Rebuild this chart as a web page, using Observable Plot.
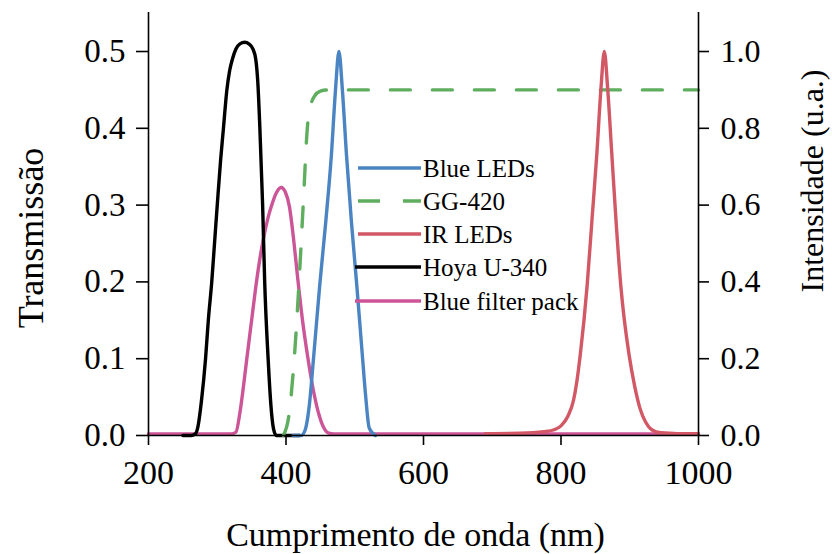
<!DOCTYPE html>
<html><head><meta charset="utf-8">
<script src="https://cdn.jsdelivr.net/npm/d3@7"></script>
<script src="https://cdn.jsdelivr.net/npm/@observablehq/plot@0.6"></script>
<style>body{margin:0;background:#fff} #chart{width:832px;height:554px}</style>
</head><body><div id="chart"></div>
<script>
// ---- data ----
const xTicks = [200, 400, 600, 800, 1000];
const leftTicks = [0, 0.1, 0.2, 0.3, 0.4, 0.5];
const rightTickLabels = ["0.0", "0.2", "0.4", "0.6", "0.8", "1.0"];
const seriesNames = ["Blue LEDs", "GG-420", "IR LEDs", "Hoya U-340", "Blue filter pack"];
const seriesColors = ["#4a84c2", "#5fae5f", "#d25866", "#000000", "#cc5597"];

// Transmissão (left axis)
const hoyaNm = [250, 262, 268, 272, 277, 283, 287, 292, 296, 300, 305, 309, 314, 318, 322, 327, 333, 340, 346, 352, 356, 359, 362, 366, 369, 374, 378, 382, 386, 420];
const hoyaT  = [0, 0, 0.002, 0.012, 0.045, 0.1, 0.15, 0.2, 0.25, 0.3, 0.36, 0.4, 0.45, 0.475, 0.49, 0.503, 0.51, 0.512, 0.51, 0.503, 0.49, 0.46, 0.4, 0.3, 0.2, 0.1, 0.04, 0.008, 0, 0];

const packNm = [200, 320, 327, 333, 338, 343, 350, 356, 362, 368, 374, 380, 386, 393, 399, 405, 411, 417, 424, 432, 440, 448, 455, 462, 470, 1000];
const packT  = [0.002, 0.002, 0.004, 0.03, 0.063, 0.1, 0.15, 0.193, 0.23, 0.26, 0.284, 0.302, 0.316, 0.323, 0.317, 0.298, 0.256, 0.205, 0.15, 0.1, 0.058, 0.027, 0.01, 0.003, 0.002, 0.002];

// Intensidade (right axis)
const blueNm = [410, 422, 428, 434, 440, 449, 458, 466, 472, 477, 482, 488, 495, 503, 511, 516, 521, 530];
const blueI  = [0, 0, 0.015, 0.08, 0.2, 0.39, 0.56, 0.73, 0.9, 1.0, 0.9, 0.73, 0.56, 0.39, 0.21, 0.1, 0.02, 0];

const irNm = [690, 740, 775, 790, 800, 810, 818, 823, 828, 838, 845, 852, 858, 863, 868, 874, 880, 887, 899, 907, 915, 923, 932, 945, 970, 1000];
const irI  = [0.005, 0.006, 0.01, 0.015, 0.025, 0.05, 0.09, 0.14, 0.21, 0.39, 0.56, 0.73, 0.9, 1.0, 0.9, 0.73, 0.56, 0.39, 0.21, 0.13, 0.07, 0.035, 0.015, 0.007, 0.005, 0.005];

const ggNm = [396, 404, 412, 419, 425, 431, 436, 442, 450, 460, 1000];
const ggI  = [0, 0.05, 0.2, 0.4, 0.6, 0.8, 0.86, 0.885, 0.897, 0.9, 0.9];

const xTitle = "Cumprimento de onda (nm)";
const yTitleLeft = "Transmissão";
const yTitleRight = "Intensidade (u.a.)";

// ---- build tables ----
const RIGHT_TO_LEFT = 0.5; // right axis 0–1 shares the left 0–0.5 scale
const toRows = (nm, v, k) => nm.map((x, i) => ({nm: x, v: v[i] * k}));
const hoya = toRows(hoyaNm, hoyaT, 1);
const pack = toRows(packNm, packT, 1);
const blue = toRows(blueNm, blueI, RIGHT_TO_LEFT);
const ir = toRows(irNm, irI, RIGHT_TO_LEFT);
const gg = toRows(ggNm, ggI, RIGHT_TO_LEFT);

const font = "'Liberation Serif', 'Times New Roman', Times, serif";
const lw = 3.4;

const plot = Plot.plot({
  width: 832, height: 554,
  marginLeft: 148, marginRight: 134, marginTop: 12, marginBottom: 119,
  style: {fontFamily: font, background: "white", color: "black"},
  x: {domain: [200, 1000]},
  y: {domain: [0, 0.5508]},
  marks: [
    Plot.line(pack, {x: "nm", y: "v", stroke: seriesColors[4], strokeWidth: lw, curve: "monotone-x"}),
    Plot.line(hoya, {x: "nm", y: "v", stroke: seriesColors[3], strokeWidth: lw, curve: "monotone-x"}),
    Plot.line(blue, {x: "nm", y: "v", stroke: seriesColors[0], strokeWidth: lw, curve: "monotone-x"}),
    Plot.line(gg, {x: "nm", y: "v", stroke: seriesColors[1], strokeWidth: lw, strokeDasharray: "20,22", curve: "monotone-x"}),
    Plot.line(ir, {x: "nm", y: "v", stroke: seriesColors[2], strokeWidth: lw, curve: "monotone-x"}),
    Plot.ruleY([0], {stroke: "black", strokeWidth: 1.6}),
    Plot.ruleX([200, 1000], {stroke: "black", strokeWidth: 1.6}),
    Plot.axisX({ticks: xTicks, tickSize: 10, tickPadding: 14, fontSize: 34, strokeWidth: 1.6, tickFormat: d => String(d), label: null}),
    Plot.axisY({ticks: leftTicks, tickSize: 12, tickPadding: 11, fontSize: 33, strokeWidth: 1.6, tickFormat: d => d.toFixed(1), label: null}),
    Plot.axisY({anchor: "right", ticks: leftTicks, tickSize: 10, tickPadding: 12, fontSize: 32, strokeWidth: 1.6,
      tickFormat: d => rightTickLabels[leftTicks.indexOf(d)], label: null}),
    Plot.text([xTitle], {text: d => d, frameAnchor: "bottom", textAnchor: "middle", lineAnchor: "bottom", dy: 110, dx: -8, fontSize: 34}),
    Plot.text([yTitleLeft], {text: d => d, frameAnchor: "left", textAnchor: "middle", rotate: -90, lineAnchor: "bottom", dx: -106, dy: 14, fontSize: 36}),
    Plot.text([yTitleRight], {text: d => d, frameAnchor: "right", textAnchor: "middle", rotate: -90, lineAnchor: "bottom", dx: 124, dy: -43, fontSize: 32})
  ]
});

document.getElementById("chart").appendChild(plot);

// ---- legend (inside the plot area) ----
const svg = d3.select(plot);
const lg = svg.append("g").attr("font-family", font).attr("font-size", 25).attr("text-anchor", "start");
const rowY = [168, 201, 234, 267, 301];
seriesNames.forEach((name, i) => {
  const y = rowY[i];
  lg.append("line")
    .attr("x1", i >= 3 ? 355 : 358).attr("x2", 421).attr("y1", y).attr("y2", y)
    .attr("stroke", seriesColors[i]).attr("stroke-width", lw)
    .attr("stroke-dasharray", i === 1 ? "22,23" : null);
  lg.append("text").attr("x", 423).attr("y", y + 9).attr("fill", "black").attr("text-anchor", "start").text(name);
});
</script></body></html>
